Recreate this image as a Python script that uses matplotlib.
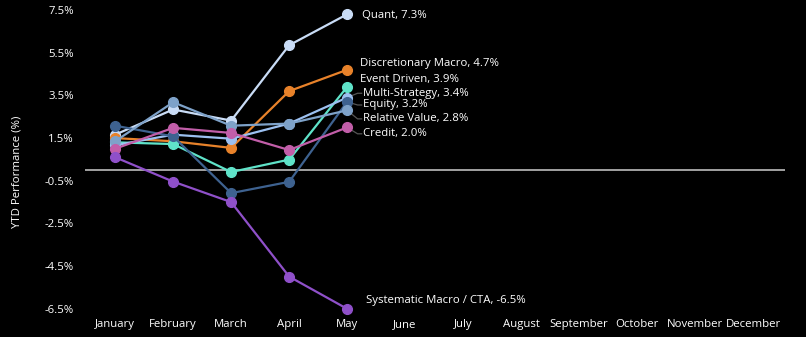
import numpy as np
import matplotlib.pyplot as plt

months = ["January", "February", "March", "April", "May", "June", "July",
          "August", "September", "October", "November", "December"]

names = ["Quant", "Discretionary Macro", "Event Driven", "Multi-Strategy",
         "Equity", "Relative Value", "Credit", "Systematic Macro / CTA"]

quant = [1.66, 2.84, 2.32, 5.85, 7.3]
disc_macro = [1.5, 1.35, 1.04, 3.7, 4.7]
event_driven = [1.3, 1.22, -0.09, 0.49, 3.9]
multi_strategy = [1.16, 1.66, 1.47, 2.18, 3.4]
equity = [2.08, 1.58, -1.08, -0.55, 3.2]
relative_value = [1.35, 3.18, 2.08, 2.18, 2.8]
credit = [1.0, 1.98, 1.74, 0.94, 2.0]
systematic = [0.6, -0.54, -1.5, -4.99, -6.5]

series = [quant, disc_macro, event_driven, multi_strategy, equity,
          relative_value, credit, systematic]
colors = ["#c9dcf6", "#e8822a", "#5fe3c9", "#9cc0f0", "#3e6290",
          "#7ea2c9", "#c25ea9", "#8f50c9"]
# where each end label sits (data coords)
label_x = [4.26, 4.22, 4.22, 4.28, 4.28, 4.28, 4.28, 4.33]
label_y = [7.25, 4.98, 4.25, 3.6, 3.05, 2.4, 1.7, -6.09]
leader = [False, False, False, True, True, True, True, False]

plt.rcParams['font.family'] = ['Open Sans', 'DejaVu Sans']

fig = plt.figure(figsize=(8.06, 3.37), dpi=100, facecolor="black")
ax = fig.add_axes([85 / 806, 1 - 315 / 337, 700 / 806, 315 / 337])
ax.set_facecolor("black")

x = np.arange(len(months))
ax.axhline(0, color="#bdbdbd", lw=1.2, zorder=1)

for i, vals in enumerate(series):
    xs = x[:len(vals)]
    ax.plot(xs, vals, color=colors[i], lw=1.6, marker="o", ms=7, zorder=3)
    label = f"{names[i]}, {vals[-1]:.1f}%"
    ax.text(label_x[i], label_y[i], label, color="white", fontsize=8.2,
            va="center", ha="left")
    if leader[i]:
        ax.plot([xs[-1], label_x[i] - 0.1, label_x[i] - 0.03],
                [vals[-1], label_y[i], label_y[i]],
                color="#555555", lw=0.9, zorder=2)

ax.set_xlim(-0.52, 11.55)
ax.set_ylim(-6.79, 7.97)
ax.set_xticks(x)
ax.set_xticklabels(months)
yt = [7.5, 5.5, 3.5, 1.5, -0.5, -2.5, -4.5, -6.5]
ax.set_yticks(yt)
ax.set_yticklabels([f"{v:.1f}%" for v in yt])
ax.tick_params(colors="white", labelsize=8.2, length=0)
ax.tick_params(axis="x", pad=3)
ax.tick_params(axis="y", pad=8)
for s in ax.spines.values():
    s.set_visible(False)
ax.set_ylabel("YTD Performance (%)", color="white", fontsize=8.2)
ax.yaxis.set_label_coords(-0.09, 0.455)

fig.savefig("out.png", dpi=100, facecolor="black")
